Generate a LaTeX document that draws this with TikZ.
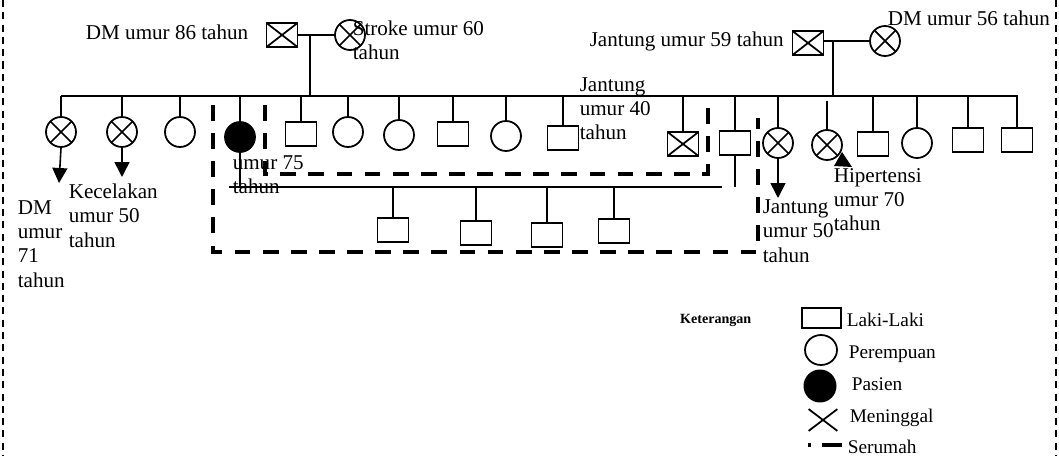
\documentclass[tikz,border=0pt]{standalone}
\usepackage{fontspec}
\setmainfont{Liberation Serif}
\usetikzlibrary{arrows.meta,shapes.geometric,shapes.misc}

\begin{document}
\begin{tikzpicture}[x=0.02cm,y=-0.02cm,line width=0.9pt,
  male/.style={draw,rectangle,line width=1pt,minimum width=0.62cm,minimum height=0.48cm,inner sep=0pt},
  female/.style={draw,circle,line width=1pt,minimum size=0.6cm,inner sep=0pt},
  dead/.style={path picture={\draw[line width=1pt] (path picture bounding box.north west) -- (path picture bounding box.south east) (path picture bounding box.north east) -- (path picture bounding box.south west);}},
  patient/.style={female,fill=black},
  lbl/.style={font=\fontsize{12}{13.8}\selectfont,align=left,inner sep=0pt,anchor=base west},
  key/.style={font=\fontsize{11}{13}\selectfont,inner sep=0pt,anchor=base west},
  serumah/.style={line width=2pt,dash pattern=on 9pt off 7pt},
  arr/.style={-{Triangle[length=0.3cm,width=0.3cm]}}]
\useasboundingbox (0,0) rectangle (1059,456);
\draw[dash pattern=on 4pt off 3pt] (3,0) -- (3,456);
\draw[dash pattern=on 4pt off 3pt] (1056,0) -- (1056,456);
% kakek nenek
\node[male,dead] (gfL) at (282,35) {};
\node[female,dead] (gmL) at (350,35) {};
\node[male,dead] (gfR) at (808,43) {};
\node[female,dead] (gmR) at (885,41) {};
\draw (gfL) -- (gmL);
\draw (gfR.east |- gmR.west) -- (gmR.west);
\coordinate (mL) at (310,35);
\coordinate (mR) at (833,41);
\coordinate (sL) at (61,96);
\coordinate (sR) at (1018,96);
\draw (mL) -- (mL |- sL);
\draw (sL) -- (sR);
\draw (mR) -- (mR |- sL);
% anak
\node[female,dead] (c1) at (61,132) {};
\node[female,dead] (c2) at (122,132) {};
\node[female] (c3) at (180,132) {};
\node[patient] (c4) at (240,137) {};
\node[male] (c5) at (301,134) {};
\node[female] (c6) at (348,132) {};
\node[female] (c7) at (399,135) {};
\node[male] (c8) at (453,134) {};
\node[female] (c9) at (506,136) {};
\node[male] (c10) at (563,138) {};
\node[male,dead] (c11) at (683,144) {};
\node[male] (c12) at (735,143) {};
\node[female,dead] (c13) at (778,143) {};
\node[female,dead] (c14) at (827,145) {};
\node[male] (c15) at (873,144) {};
\node[female] (c16) at (917,143) {};
\node[male] (c17) at (968,140) {};
\node[male] (c18) at (1017,140) {};
\draw (c1.north) -- (c1.north |- sL);
\draw (c2.north) -- (c2.north |- sL);
\draw (c3.north) -- (c3.north |- sL);
\draw (c4.north) -- (c4.north |- sL);
\draw (c5.north) -- (c5.north |- sL);
\draw (c6.north) -- (c6.north |- sL);
\draw (c7.north) -- (c7.north |- sL);
\draw (c8.north) -- (c8.north |- sL);
\draw (c9.north) -- (c9.north |- sL);
\draw (c10.north) -- (c10.north |- sL);
\draw (c11.north) -- (c11.north |- sL);
\draw (c12.north) -- (c12.north |- sL);
\draw (c13.north) -- (c13.north |- sL);
\draw (c14.north) -- ++(0,-28);
\draw (c15.north) -- (c15.north |- sL);
\draw (c16.north) -- (c16.north |- sL);
\draw (c17.north) -- (c17.north |- sL);
\draw (c18.north) -- (c18.north |- sL);
\coordinate (a1) at (59,183);
\coordinate (a2) at (122,177);
\coordinate (a13) at (778,198);
\draw[arr] (c1.south) -- (a1);
\draw[arr] (c2.south) -- (a2);
\draw[arr] (c13.south) -- (a13);
\fill (842,152) -- (834,166) -- (852,167) -- cycle;
% cucu
\coordinate (hL) at (229,187);
\coordinate (hR) at (722,187);
\draw (hL) -- (hR);
\draw (c4.south) -- (c4.south |- hL);
\draw (c12.south) -- (c12.south |- hL);
\node[male] (g1) at (393,230) {};
\node[male] (g2) at (476,233) {};
\node[male] (g3) at (547,235) {};
\node[male] (g4) at (614,231) {};
\draw (g1.north) -- (g1.north |- hL);
\draw (g2.north) -- (g2.north |- hL);
\draw (g3.north) -- (g3.north |- hL);
\draw (g4.north) -- (g4.north |- hL);
% serumah
\draw[serumah] (213,105) -- (213,252) -- (758,252) -- (758,118);
\draw[serumah] (265,105) -- (265,174) -- (708,174) -- (708,107);
% keterangan penyakit (base = baris terakhir)
\node[lbl,anchor=base east] (l1) at (249,40) {DM umur 86 tahun};
\node[lbl] (l2) at (352,60) {Stroke umur 60\\tahun};
\node[lbl] (l3) at (589,47) {Jantung umur 59 tahun};
\node[lbl] (l4) at (887,26) {DM umur 56 tahun};
\node[lbl] (l5) at (579,140) {Jantung\\umur 40\\tahun};
\node[lbl] (l6) at (232,194) {umur 75\\tahun};
\node[lbl] (l7) at (17,287) {DM\\umur\\71\\tahun};
\node[lbl] (l8) at (68,247) {Kecelakan\\umur 50\\tahun};
\node[lbl] (l9) at (762,262) {Jantung\\umur 50\\tahun};
\node[lbl] (l10) at (833,231) {Hipertensi\\umur 70\\tahun};
% legenda
\node[font=\bfseries\fontsize{8}{10}\selectfont,inner sep=0pt,anchor=base east] (ket) at (752,323) {Keterangan};
\node[draw,line width=1pt,minimum width=0.78cm,minimum height=0.4cm,inner sep=0pt] (kM) at (821.5,318) {};
\node[key] (tM) at (846,326) {Laki-Laki};
\node[draw,ellipse,line width=1pt,minimum width=0.64cm,minimum height=0.6cm,inner sep=0pt] (kF) at (821,350) {};
\node[key] (tF) at (848,358) {Perempuan};
\node[ellipse,fill=black,minimum width=0.66cm,minimum height=0.66cm,inner sep=0pt] (kP) at (820,386) {};
\node[key] (tP) at (851,390) {Pasien};
\node[draw,cross out,line width=1pt,minimum width=0.54cm,minimum height=0.4cm,inner sep=0pt] (kD) at (823,420) {};
\node[key] (tD) at (849,422) {Meninggal};
\draw[line width=2pt] (808,445) -- (811,445);
\draw[line width=2pt] (822,445) -- (842,445);
\node[key] (tS) at (847,453) {Serumah};
\end{tikzpicture}
\end{document}
